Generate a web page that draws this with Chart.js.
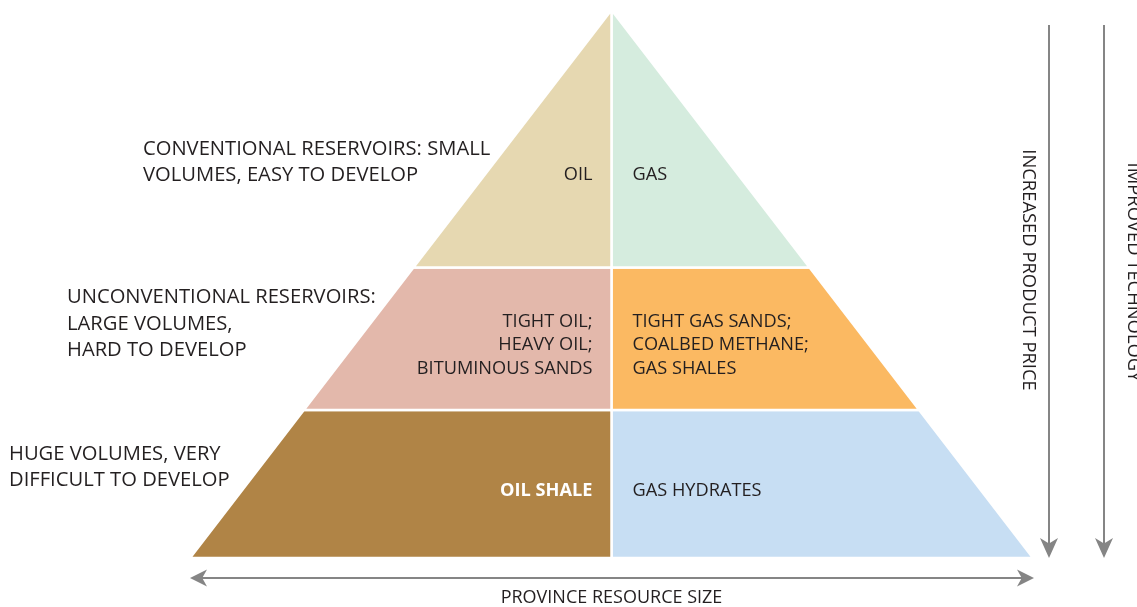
<!DOCTYPE html>
<html>
<head>
<meta charset="utf-8">
<script src="https://cdn.jsdelivr.net/npm/chart.js@4.4.0/dist/chart.umd.min.js"></script>
<style>
  html, body { margin: 0; padding: 0; background: #ffffff; }
  #wrap { width: 1137px; height: 607px; }
</style>
</head>
<body>
<div id="wrap"><canvas id="c" width="1137" height="607"></canvas></div>
<script>
// ---- data ----
const tierNames = ['Conventional', 'Unconventional', 'Huge'];
// top and bottom of each tier, as a fraction of the pyramid height (apex = 1, base = 0)
const tierTops = [1.0, 0.53, 0.27];
const tierBottoms = [0.53, 0.27, 0.0];
const tierDescriptions = [
  ['CONVENTIONAL RESERVOIRS: SMALL', 'VOLUMES, EASY TO DEVELOP'],
  ['UNCONVENTIONAL RESERVOIRS:', 'LARGE VOLUMES,', 'HARD TO DEVELOP'],
  ['HUGE VOLUMES, VERY', 'DIFFICULT TO DEVELOP']
];
const oilLabels = [
  ['OIL'],
  ['TIGHT OIL;', 'HEAVY OIL;', 'BITUMINOUS SANDS'],
  ['OIL SHALE']
];
const gasLabels = [
  ['GAS'],
  ['TIGHT GAS SANDS;', 'COALBED METHANE;', 'GAS SHALES'],
  ['GAS HYDRATES']
];
const oilColors = ['#e6d8b1', '#e3b8ab', '#b08446'];
const gasColors = ['#d5ecde', '#fbb962', '#c7def3'];
const axisLabelX = 'PROVINCE RESOURCE SIZE';
const arrowLabels = ['INCREASED PRODUCT PRICE', 'IMPROVED TECHNOLOGY'];

// ---- build polygons (half-width at height h is 1 - h) ----
function poly(top, bot, side) {
  return [
    { x: 0, y: top },
    { x: side * (1 - top), y: top },
    { x: side * (1 - bot), y: bot },
    { x: 0, y: bot },
    { x: 0, y: top }
  ];
}
const datasets = [];
tierNames.forEach((n, i) => {
  datasets.push({ label: n + ' oil', data: poly(tierTops[i], tierBottoms[i], -1),
    backgroundColor: oilColors[i], borderColor: '#ffffff', borderWidth: 2.5,
    fill: 'shape', showLine: true, pointRadius: 0, tension: 0 });
  datasets.push({ label: n + ' gas', data: poly(tierTops[i], tierBottoms[i], 1),
    backgroundColor: gasColors[i], borderColor: '#ffffff', borderWidth: 2.5,
    fill: 'shape', showLine: true, pointRadius: 0, tension: 0 });
});

const FONT = '"Open Sans", sans-serif';
const TXT = '#231f20';
const GREY = '#858585';

function arrowHead(ctx, x, y, dx, dy, len, hw) {
  const px = -dy, py = dx;
  ctx.beginPath();
  ctx.moveTo(x, y);
  ctx.lineTo(x - dx * len + px * hw, y - dy * len + py * hw);
  ctx.lineTo(x - dx * len * 0.72, y - dy * len * 0.72);
  ctx.lineTo(x - dx * len - px * hw, y - dy * len - py * hw);
  ctx.closePath();
  ctx.fill();
}

const annot = {
  id: 'annot',
  afterDatasetsDraw(chart) {
    const ctx = chart.ctx;
    const xs = chart.scales.x, ys = chart.scales.y;
    const cx = xs.getPixelForValue(0);
    const baseY = ys.getPixelForValue(0);
    const leftX = xs.getPixelForValue(-1), rightX = xs.getPixelForValue(1);
    ctx.save();
    ctx.textBaseline = 'middle';
    const fs = 18.2, lh = 23.5;
    const innerY = [175, 345, 491];
    // inner labels
    tierNames.forEach((n, i) => {
      const lines = oilLabels[i];
      const y0 = innerY[i] - (lines.length - 1) * lh / 2;
      ctx.textAlign = 'right';
      ctx.font = (i === 2 ? 'bold ' : '') + fs + 'px ' + FONT;
      ctx.fillStyle = i === 2 ? '#ffffff' : TXT;
      lines.forEach((t, k) => ctx.fillText(t, cx - 19, y0 + k * lh));
      const g = gasLabels[i];
      const g0 = innerY[i] - (g.length - 1) * lh / 2;
      ctx.textAlign = 'left';
      ctx.font = fs + 'px ' + FONT;
      ctx.fillStyle = TXT;
      g.forEach((t, k) => ctx.fillText(t, cx + 21, g0 + k * lh));
    });
    // descriptions
    const descX = [143, 67, 9];
    const descY = [162, 324, 467];
    const dlh = 26.5;
    ctx.textAlign = 'left';
    ctx.font = '20.2px ' + FONT;
    ctx.fillStyle = TXT;
    tierDescriptions.forEach((lines, i) => {
      const y0 = descY[i] - (lines.length - 1) * dlh / 2;
      lines.forEach((t, k) => ctx.fillText(t, descX[i], y0 + k * dlh));
    });
    // horizontal arrow
    ctx.strokeStyle = GREY; ctx.fillStyle = GREY; ctx.lineWidth = 2;
    const ay = 578;
    ctx.beginPath(); ctx.moveTo(leftX + 8, ay); ctx.lineTo(rightX - 8, ay); ctx.stroke();
    arrowHead(ctx, leftX, ay, -1, 0, 17, 8.5);
    arrowHead(ctx, rightX + 1, ay, 1, 0, 17, 8.5);
    ctx.fillStyle = TXT;
    ctx.textAlign = 'center';
    ctx.font = '18px ' + FONT;
    ctx.fillText(axisLabelX, cx, 598);
    // vertical arrows
    const vx = [1049, 1104];
    vx.forEach(x => {
      ctx.strokeStyle = GREY; ctx.fillStyle = GREY;
      ctx.beginPath(); ctx.moveTo(x, 25); ctx.lineTo(x, baseY - 8); ctx.stroke();
      arrowHead(ctx, x, baseY, 0, 1, 20, 9);
    });
    // vertical labels
    const lx = [1028, 1133], ly = [270, 272];
    ctx.fillStyle = TXT;
    ctx.font = '18.4px ' + FONT;
    arrowLabels.forEach((t, i) => {
      ctx.save();
      ctx.translate(lx[i], ly[i]);
      ctx.rotate(Math.PI / 2);
      ctx.textAlign = 'center';
      ctx.fillText(t, 0, 0);
      ctx.restore();
    });
    ctx.restore();
  }
};

new Chart(document.getElementById('c'), {
  type: 'scatter',
  data: { datasets },
  options: {
    responsive: false,
    animation: false,
    devicePixelRatio: 1,
    layout: { padding: 0 },
    plugins: { legend: { display: false }, tooltip: { enabled: false } },
    scales: {
      x: { type: 'linear', display: false, min: -611.5 / 421.5, max: (1137 - 611.5) / 421.5 },
      y: { type: 'linear', display: false, min: -(607 - 558) / 548, max: 1 + 10 / 548 }
    }
  },
  plugins: [annot]
});
</script>
</body>
</html>
